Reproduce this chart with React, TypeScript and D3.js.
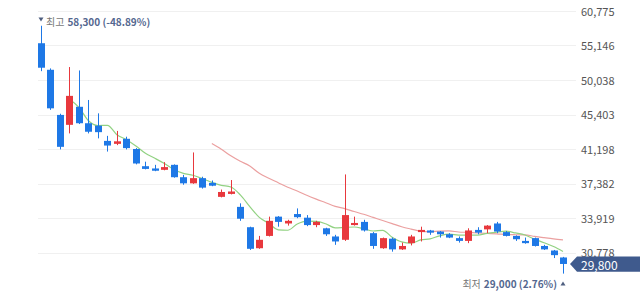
import React from 'react';
import * as d3 from 'd3';

// ---- data ----
const opens = [55500, 51500, 45350, 44100, 46400, 44300, 44000, 42150, 41800, 42400,
  41200, 39250, 39000, 38850, 39400, 38050, 37400, 37950, 37450, 36000,
  36300, 35000, 33050, 31150, 32250, 34050, 33400, 34300, 33950, 33250,
  32950, 32200, 31900, 33250, 33550, 32500, 31150, 32000, 31050, 31600,
  32600, 32750, 32650, 32400, 32050, 31800, 32800, 32850, 33400, 32600,
  32250, 31800, 32050, 31350, 30950, 30350];
const highs = [58300, 51700, 45500, 51900, 51400, 47300, 45550, 42750, 43350, 42650,
  41300, 39750, 39400, 39700, 39450, 38300, 40800, 38100, 37700, 36750,
  37750, 35350, 33100, 32250, 34050, 34100, 33750, 34850, 34200, 33650,
  33000, 32350, 38350, 34050, 33750, 32600, 32100, 32100, 31650, 32350,
  33100, 32800, 32700, 32500, 32200, 32950, 33050, 33250, 33550, 32700,
  32300, 32100, 32100, 31450, 31000, 30400];
const lows = [51300, 46000, 41150, 43050, 44200, 43050, 42450, 40900, 41650, 41150,
  39450, 38900, 38700, 38800, 38000, 37250, 37350, 36850, 37100, 35950,
  36250, 33650, 31000, 31100, 32200, 33100, 33200, 33900, 33150, 33050,
  32250, 31450, 31800, 33200, 32650, 31100, 31100, 30850, 31000, 31400,
  31750, 32350, 32100, 32050, 31650, 31600, 32400, 32500, 32500, 32200,
  31800, 31550, 31300, 31000, 30300, 29000];
const closes = [51800, 46200, 41450, 47850, 44300, 43250, 43200, 41600, 42100, 41300,
  39550, 38950, 38750, 39150, 38050, 37400, 37950, 36950, 37150, 36500,
  36550, 33850, 31100, 31900, 33650, 33550, 33650, 34000, 33250, 33550,
  32400, 31750, 34200, 33450, 32750, 31350, 32050, 31050, 31350, 32200,
  32800, 32550, 32400, 32100, 31800, 32750, 32550, 33200, 32650, 32250,
  31950, 31600, 31350, 31050, 30550, 29800];
const closeBeforeRange = 49700; // close of the day before the first candle (used by the averages)
const days = closes.map((_, i) => i);
const yTicks = [60775, 55146, 50038, 45403, 41198, 37382, 33919, 30778];
const highPct = '-48.89%';
const lowPct = '2.76%';
const maShortWindow = 5;
const maLongWindow = 20;

const FONT = '"Noto Sans CJK KR", "Noto Sans", sans-serif';
const RED = '#e8383d';
const BLUE = '#1e78e6';

function movingAverage(windowSize: number) {
  const ext = [closeBeforeRange, ...closes];
  const out: { i: number; v: number }[] = [];
  for (let k = windowSize - 1; k < ext.length; k++) {
    const v = d3.mean(ext.slice(k - windowSize + 1, k + 1)) as number;
    out.push({ i: k - 1, v });
  }
  return out;
}

export default function App() {
  const W = 640, H = 291;
  const x = d3.scalePoint<number>().domain(days).range([41, 563]);
  const y = d3.scaleLog().domain([yTicks[yTicks.length - 1], yTicks[0]]).range([252.5, 11]);
  const fmt = d3.format(',');
  const bw = 7;

  const line = d3.line<{ i: number; v: number }>()
    .x(d => x(d.i) as number)
    .y(d => y(d.v))
    .curve(d3.curveMonotoneX);

  const ma5 = movingAverage(maShortWindow);
  const ma20 = movingAverage(maLongWindow);

  const hiIdx = d3.maxIndex(highs);
  const loIdx = d3.minIndex(lows);
  const last = closes[closes.length - 1];
  const hx = x(hiIdx) as number;
  const lx = x(loIdx) as number;
  const ly = y(last);

  return (
    <svg width={W} height={H} style={{ position: 'absolute', left: 0, top: 0, background: '#fff' }} fontFamily={FONT}>
      {yTicks.map(t => (
        <g key={t}>
          <line x1={38} x2={576} y1={Math.round(y(t)) + 0.5} y2={Math.round(y(t)) + 0.5} stroke="#f0f0f0" />
          <text x={581} y={y(t) - 0.5} dominantBaseline="central" fontSize={11} fill="#555">{fmt(t)}</text>
        </g>
      ))}
      <path d={line(ma20) || ''} fill="none" stroke="#eba0a0" strokeWidth={1.2} />
      <path d={line(ma5) || ''} fill="none" stroke="#92d283" strokeWidth={1.2} />
      {days.map(i => {
        const cx = Math.round(x(i) as number);
        const up = closes[i] >= opens[i];
        const col = up ? RED : BLUE;
        const top = y(Math.max(opens[i], closes[i]));
        const bot = y(Math.min(opens[i], closes[i]));
        const h = Math.max(1.5, bot - top);
        return (
          <g key={i}>
            <line x1={cx + 0.5} x2={cx + 0.5} y1={y(highs[i])} y2={y(lows[i])} stroke={col} strokeWidth={1} />
            <rect x={cx - bw / 2 + 0.5} y={top} width={bw} height={h} fill={col} />
          </g>
        );
      })}
      {/* highest label */}
      <path d={`M${hx - 2.5},${17.5}L${hx + 2.5},${17.5}L${hx},${21.5}Z`} fill="#4f5f80" />
      <text x={hx + 5} y={20.5} dominantBaseline="central" fontSize={10}>
        <tspan fill="#777">최고</tspan>
        <tspan dx={3} fill="#54678f" fontWeight={600}>{fmt(highs[hiIdx])} ({highPct})</tspan>
      </text>
      {/* lowest label */}
      <text x={lx - 6} y={283.3} dominantBaseline="central" fontSize={10} textAnchor="end">
        <tspan fill="#777">최저</tspan>
        <tspan dx={3} fill="#54678f" fontWeight={600}>{fmt(lows[loIdx])} ({lowPct})</tspan>
      </text>
      <path d={`M${lx - 2.5},${285.5}L${lx + 2.5},${285.5}L${lx},${281.5}Z`} fill="#4f5f80" />
      {/* current price tag */}
      <path d={`M570,${ly}L577,${ly - 7.5}H640V${ly + 7.8}H577Z`} fill="#3f5a8d" />
      <text x={581} y={ly + 0.3} dominantBaseline="central" fontSize={12} fill="#fff">{fmt(last)}</text>
    </svg>
  );
}
